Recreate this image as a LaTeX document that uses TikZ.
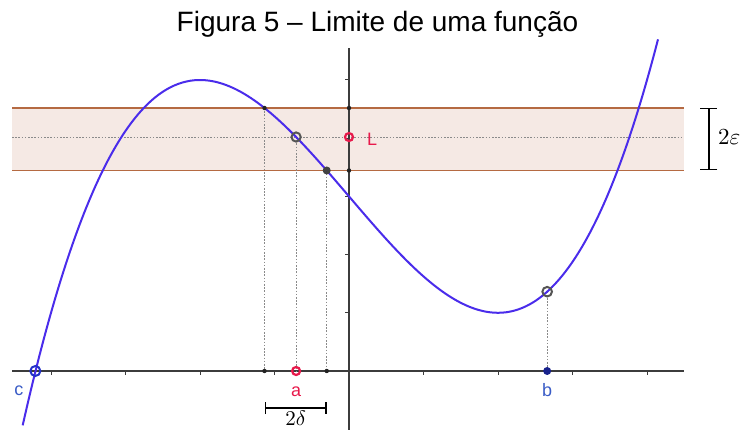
\documentclass[tikz,border=0pt]{standalone}
\usepackage{fontspec}
\setmainfont{Liberation Sans}
\setsansfont{Liberation Sans}
\usetikzlibrary{arrows.meta,calc}
\newcommand{\bigmath}[2][2.3]{\scalebox{#1}{$#2$}}

\begin{document}
\begin{tikzpicture}[
    x=1pt, y=1pt,
    title/.style={font=\fontsize{28}{32}\selectfont, text=black, inner sep=0pt, anchor=base},
    axisline/.style={draw=axisgray, line width=1.3pt},
    tick/.style={draw=axisgray, line width=1pt},
    bandline/.style={draw=bandbrown, line width=1.6pt},
    guide/.style={draw=guidegray, line width=0.9pt, dash pattern=on 1.6pt off 1.6pt},
    curve/.style={draw=curveblue, line width=2pt},
    lab/.style={font=\fontsize{18}{20}\selectfont, inner sep=0pt, anchor=base},
    mathlab/.style={inner sep=0pt},
    bracket/.style={draw=black, line width=1.5pt}
]
\definecolor{axisgray}{HTML}{3C3C3C}
\definecolor{bandbrown}{HTML}{B56A42}
\definecolor{bandfill}{HTML}{F5E9E4}
\definecolor{guidegray}{HTML}{8A8A8A}
\definecolor{curveblue}{HTML}{4A2CEB}
\definecolor{limred}{HTML}{E8194B}
\definecolor{ptblue}{HTML}{2331C8}
\definecolor{labblue}{HTML}{3A5CC6}
\definecolor{ptgray}{HTML}{555555}
\definecolor{dotink}{HTML}{222222}

\useasboundingbox (0,0) rectangle (742,430);

\node[title] (title) at (377.5,398) {Figura 5 – Limite de uma função};

\begin{scope}[shift={(349pt,59pt)}, x=74.5pt, y=58.2pt,
    declare function={f(\t)=(\t)*(\t)*(\t)/8-1.5*(\t)+3;}]
\def\xL{-4.523}
\def\xR{4.497}
\def\yhi{4.519}
\def\ylo{3.445}
\def\yL{4.02}
\def\xu{-1.134}
\def\xa{-0.71}
\def\xl{-0.299}
\def\xb{2.66}

% epsilon band round L
\fill[bandfill] (\xL,\ylo) rectangle (\xR,\yhi);
\draw[guide] (\xL,\yL) -- (\xR,\yL);
\draw[bandline] (\xL,\yhi) -- (\xR,\yhi);
\draw[bandline] (\xL,\ylo) -- (\xR,\ylo);

% axes and ticks
\draw[axisline] (\xL,0) -- (\xR,0);
\draw[axisline] (0,-1.014) -- (0,5.55);
\foreach \i in {-4,-3,-2,-1,1,2,3,4} {
  \draw[tick] (\i,0) -- ++(0,-4pt);
}
\foreach \j in {1,...,5} {
  \draw[tick] (0,\j) -- ++(-4pt,0);
}

% points on the curve and their feet
\coordinate (U) at (\xu,\yhi);
\coordinate (Ux) at (\xu,0);
\coordinate (P) at (\xa,{f(\xa)});
\coordinate (Px) at (\xa,0);
\coordinate (D) at (\xl,\ylo);
\coordinate (Dx) at (\xl,0);
\coordinate (B) at (\xb,{f(\xb)});
\coordinate (Bx) at (\xb,0);
\coordinate (L) at (0,\yL);
\coordinate (Uy) at (0,\yhi);
\coordinate (Dy) at (0,\ylo);
\coordinate (C) at (-4.21,0);

\draw[guide] (U) -- (Ux);
\draw[guide] (P) -- (Px);
\draw[guide] (D) -- (Dx);
\draw[guide] (B) -- (Bx);

% f(x) = x^3/8 - 3x/2 + 3
\draw[curve] plot[domain=-4.38:4.15, samples=160, smooth] (\x,{f(\x)});

\foreach \p in {U,Ux,Dx,Uy,Dy} {
  \fill[dotink] (\p) circle (2.2pt);
}
\fill[dotink!85] (D) circle (4pt);
\draw[ptgray, line width=2pt] (P) circle (4.6pt);
\draw[ptgray, line width=2pt] (B) circle (4.8pt);
\draw[limred, line width=2.2pt] (L) circle (4pt);
\draw[limred, line width=2.2pt] (Px) circle (4pt);
\draw[ptblue, line width=2pt] (C) circle (5pt);
\fill[ptblue!70!black] (Bx) circle (4pt);

\node[lab, text=limred, anchor=base west] (Llab) at ([xshift=18pt,yshift=-8pt]L) {L};
\node[lab, text=limred] (alab) at ([yshift=-26pt]Px) {a};
\node[lab, text=labblue] (blab) at ([yshift=-26pt]Bx) {b};
\node[lab, text=labblue] (clab) at ([xshift=-16.5pt,yshift=-25pt]C) {c};

% 2 epsilon and 2 delta
\coordinate (Et) at (4.832,\yhi);
\coordinate (Eb) at (4.832,\ylo);
\coordinate (Em) at (4.832,\yL);
\draw[bracket, {Bar[width=17pt]}-{Bar[width=17pt]}] (Et) -- (Eb);
\node[mathlab, anchor=west] (eps) at ([xshift=9pt]Em) {\bigmath{2\varepsilon}};

\coordinate (Dl) at (\xu,-0.64);
\coordinate (Dr) at (\xl,-0.64);
\draw[bracket, {Bar[width=12pt]}-{Bar[width=12pt]}] (Dl) -- (Dr);
\node[mathlab, anchor=north] (del) at ([yshift=-2pt]$(Dl)!0.5!(Dr)$) {\bigmath[2.1]{2\delta}};
\end{scope}
\end{tikzpicture}
\end{document}
